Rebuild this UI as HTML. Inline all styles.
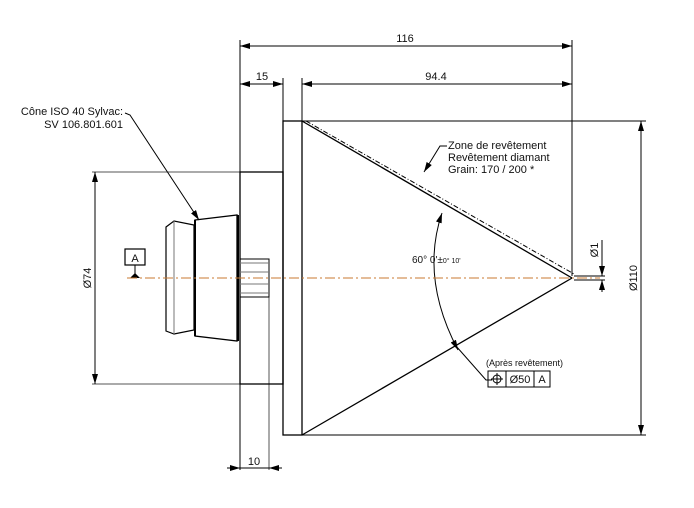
<!DOCTYPE html>
<html><head><style>
body{margin:0;background:#fff;}
svg{display:block;font-family:"Liberation Sans",sans-serif;}
</style></head><body>
<svg width="694" height="508" viewBox="0 0 694 508" xmlns="http://www.w3.org/2000/svg">
<defs>
<marker id="a" viewBox="0 0 10 6" refX="10" refY="3" markerWidth="10" markerHeight="6" orient="auto-start-reverse" markerUnits="userSpaceOnUse"><path d="M0,0L10,3L0,6z" fill="#000"/></marker>
</defs>
<g stroke="#000" fill="none" stroke-width="1">
<!-- extension lines -->
<line x1="240" y1="40" x2="240" y2="470"/>
<line x1="572" y1="40" x2="572" y2="276"/>
<line x1="283" y1="78" x2="283" y2="121"/>
<line x1="302" y1="78" x2="302" y2="121"/>
<line x1="269" y1="297" x2="269" y2="470" stroke="#555"/>
<line x1="302" y1="121" x2="646" y2="121"/>
<line x1="302" y1="435" x2="646" y2="435"/>
<line x1="92" y1="172" x2="240" y2="172" stroke="#555"/>
<line x1="92" y1="384" x2="240" y2="384" stroke="#555"/>
<!-- dims -->
<line x1="240" y1="46" x2="572" y2="46" marker-start="url(#a)" marker-end="url(#a)"/>
<line x1="240" y1="84" x2="283" y2="84" marker-start="url(#a)" marker-end="url(#a)"/>
<line x1="302" y1="84" x2="572" y2="84" marker-start="url(#a)" marker-end="url(#a)"/>
<line x1="95" y1="172" x2="95" y2="384" marker-start="url(#a)" marker-end="url(#a)"/>
<line x1="641" y1="121" x2="641" y2="435" marker-start="url(#a)" marker-end="url(#a)"/>
<line x1="227" y1="468" x2="240" y2="468" marker-end="url(#a)"/>
<line x1="282" y1="468" x2="269" y2="468" marker-end="url(#a)"/>
<line x1="240" y1="468" x2="269" y2="468"/>
<line x1="602" y1="240" x2="602" y2="276" marker-end="url(#a)"/>
<line x1="602" y1="292" x2="602" y2="280" marker-end="url(#a)"/>
<line x1="574" y1="276" x2="605" y2="276"/>
<line x1="574" y1="280" x2="605" y2="280"/>
<!-- body -->
<rect x="240" y="172" width="43" height="212" stroke-width="1.3"/>
<rect x="283" y="121" width="19" height="314" stroke-width="1.3"/>
<polyline points="302,121 572,278 302,435" stroke-width="1.3"/>
<line x1="306" y1="121" x2="574" y2="274" stroke-dasharray="5,2,1,2"/>
<!-- stub -->
<rect x="240" y="259" width="29" height="38"/>
<line x1="240" y1="263" x2="269" y2="263" stroke="#777"/>
<line x1="240" y1="272" x2="269" y2="272" stroke="#777"/>
<line x1="240" y1="284" x2="269" y2="284" stroke="#777"/>
<line x1="240" y1="293" x2="269" y2="293" stroke="#777"/>
<!-- adapter -->
<polygon points="195,220 237,215 237,341 195,336" stroke-width="1.3"/>
<line x1="238" y1="215" x2="238" y2="341" stroke-width="2"/>
<polygon points="166,227 174,221 194,225 194,330 174,334 166,331" stroke-width="1.2"/>
<line x1="174" y1="221" x2="174" y2="334" stroke="#777"/>
<line x1="195" y1="220" x2="195" y2="336" stroke-width="2"/>
<!-- leaders -->
<polyline points="125,113 130,115 199,220" marker-end="url(#a)"/>
<polyline points="447,146 440,146 424,172" marker-end="url(#a)"/>
<!-- angle arc -->
<path d="M442,213 Q420,278 458,350" marker-start="url(#a)" marker-end="url(#a)"/>
<polyline points="456,346 486,380 492,380"/>
<!-- datum -->
<rect x="125" y="249" width="20" height="16" stroke-width="1.2"/>
<line x1="135" y1="265" x2="135" y2="276"/>
<!-- FCF -->
<rect x="488" y="371" width="62" height="16"/>
<line x1="506" y1="371" x2="506" y2="387"/>
<line x1="534" y1="371" x2="534" y2="387"/>
<circle cx="497" cy="379" r="4"/>
<line x1="491" y1="379" x2="503" y2="379"/><line x1="497" y1="373" x2="497" y2="385"/>
</g>
<path d="M130,278 L135,273 L140,278z" fill="#000"/>
<line x1="127" y1="278" x2="600" y2="278" stroke="#c87a30" stroke-width="1" stroke-dasharray="10,3,2,3"/>
<g font-size="11" fill="#111">
<text x="405" y="42" text-anchor="middle">116</text>
<text x="262" y="80" text-anchor="middle">15</text>
<text x="436" y="80" text-anchor="middle">94.4</text>
<text x="254" y="465" text-anchor="middle">10</text>
<text x="135" y="262" text-anchor="middle">A</text>
<text x="123" y="115" text-anchor="end">Cône ISO 40 Sylvac:</text>
<text x="123" y="128" text-anchor="end">SV 106.801.601</text>
<text x="448" y="149">Zone de revêtement</text>
<text x="448" y="161">Revêtement diamant</text>
<text x="448" y="173">Grain: 170 / 200 *</text>
<text x="412" y="263" font-size="10">60° 0'±<tspan font-size="7">0° 10'</tspan></text>
<text x="486" y="366" font-size="9">(Après revêtement)</text>
<text x="520" y="383" text-anchor="middle">Ø50</text>
<text x="542" y="383" text-anchor="middle">A</text>
<text transform="translate(91,278) rotate(-90)" text-anchor="middle">Ø74</text>
<text transform="translate(637,278) rotate(-90)" text-anchor="middle">Ø110</text>
<text transform="translate(598,250) rotate(-90)" text-anchor="middle">Ø1</text>
</g>
</svg>
</body></html>
